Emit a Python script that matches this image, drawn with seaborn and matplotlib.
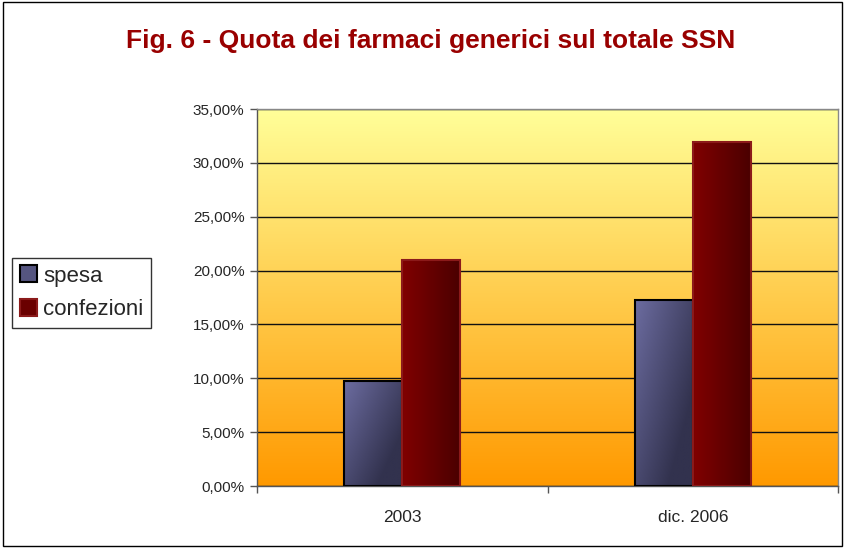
import numpy as np
import pandas as pd
import matplotlib
matplotlib.use("Agg")
import matplotlib.pyplot as plt
from matplotlib.patches import Rectangle, Patch
from matplotlib.ticker import FuncFormatter, FixedLocator
import seaborn as sns

# data (values in %)
periodi = ["2003", "dic. 2006"]
spesa = [9.8, 17.3]
confezioni = [21.0, 31.9]
serie = ["spesa", "confezioni"]

df = pd.DataFrame({
    "periodo": periodi * 2,
    "serie": ["spesa"] * 2 + ["confezioni"] * 2,
    "quota": spesa + confezioni,
})

sns.set_style("white")
plt.rcParams["font.family"] = ["Liberation Sans", "DejaVu Sans"]

fig = plt.figure(figsize=(8.45, 5.48), dpi=100)
ax = fig.add_axes([0.304, 0.113, 0.688, 0.688])

# yellow -> orange background
bg = np.linspace(0, 1, 256).reshape(-1, 1)
top = np.array([255, 255, 153]) / 255
bot = np.array([255, 153, 0]) / 255
bg_img = top + (bot - top) * bg[..., None]
ax.imshow(bg_img, extent=[0, 1, 0, 1], transform=ax.transAxes,
          aspect="auto", zorder=0)

sns.barplot(data=df, x="periodo", y="quota", hue="serie", order=periodi,
            hue_order=serie, palette=["#555580", "#6a0000"], width=0.4,
            ax=ax, legend=False, zorder=3)

# gradient fill on bars
grad_cols = {
    "spesa": (np.array([108, 108, 160]) / 255, np.array([50, 50, 78]) / 255, "black"),
    "confezioni": (np.array([128, 0, 0]) / 255, np.array([74, 0, 0]) / 255, "#8b1a1a"),
}
bars = [p for p in ax.patches if isinstance(p, Rectangle)]
for i, p in enumerate(bars):
    name = serie[i // len(periodi)]
    c1, c2, ec = grad_cols[name]
    x0, w, h = p.get_x(), p.get_width(), p.get_height()
    t = np.linspace(0, 1, 64).reshape(1, -1)
    if name == "spesa":
        v = np.linspace(0, 0.6, 64).reshape(-1, 1)
        frac = np.clip(t * 0.7 + v, 0, 1)
    else:
        frac = np.repeat(t, 64, axis=0)
    img = c1 + (c2 - c1) * frac[..., None]
    im = ax.imshow(img, extent=[x0, x0 + w, 0, h], aspect="auto",
                   zorder=3.5, origin="upper")
    im.set_clip_path(p)
    p.set_facecolor("none")
    p.set_edgecolor(ec)
    p.set_linewidth(1.5)
    p.set_zorder(4)

ax.set_xlim(-0.5, 1.5)
ax.set_ylim(0, 35)
ax.set_yticks(np.arange(0, 36, 5))
ax.yaxis.set_major_formatter(FuncFormatter(lambda v, _: f"{v:.2f}%".replace(".", ",")))
ax.grid(axis="y", color="#111111", linewidth=1, zorder=1)
ax.set_axisbelow(True)
ax.set_xlabel("")
ax.set_ylabel("")

ax.tick_params(axis="y", which="major", length=5, width=1, color="#555555",
               labelsize=11, pad=4, left=True)
ax.tick_params(axis="x", which="major", length=0, labelsize=12.5, pad=17)
ax.xaxis.set_minor_locator(FixedLocator([-0.5, 0.5, 1.5]))
ax.tick_params(axis="x", which="minor", length=5, width=1, color="#555555", bottom=True)

for s in ["top", "right"]:
    ax.spines[s].set_color("#888888")
    ax.spines[s].set_linewidth(1)
for s in ["left", "bottom"]:
    ax.spines[s].set_color("#555555")
    ax.spines[s].set_linewidth(1)
    ax.spines[s].set_visible(True)

fig.text(0.51, 0.925, "Fig. 6 - Quota dei farmaci generici sul totale SSN",
         ha="center", va="center", fontsize=19, fontweight="bold", color="#990000")

handles = [
    Patch(facecolor="#555580", edgecolor="black", linewidth=1.5, label="spesa"),
    Patch(facecolor="#6a0000", edgecolor="#8b1a1a", linewidth=1.5, label="confezioni"),
]
leg = fig.legend(handles=handles, loc="upper left", bbox_to_anchor=(0.014, 0.53),
                 fontsize=16, frameon=True, fancybox=False, handlelength=0.8,
                 handleheight=0.8, handletextpad=0.25, borderpad=0.35,
                 labelspacing=0.55, borderaxespad=0)
leg.get_frame().set_edgecolor("black")
leg.get_frame().set_linewidth(1)

fig.patches.append(Rectangle((0.003, 0.004), 0.994, 0.992, transform=fig.transFigure,
                             fill=False, edgecolor="black", linewidth=1))

fig.savefig("out.png", dpi=100)
